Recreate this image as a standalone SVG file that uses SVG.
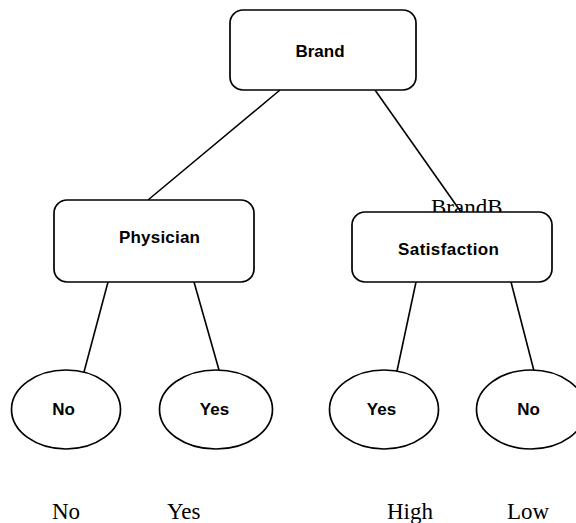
<svg xmlns="http://www.w3.org/2000/svg" width="576" height="523" viewBox="0 0 576 523">
  <style>
    .box { fill: #ffffff; stroke: #000000; stroke-width: 1.7; }
    .edge { stroke: #000000; stroke-width: 1.6; fill: none; }
    .lbl { font-family: "Liberation Sans", Arial, sans-serif; font-weight: bold; font-size: 17px; fill: #000000; text-anchor: middle; }
    .val { font-family: "Liberation Serif", "Times New Roman", serif; font-size: 23px; fill: #000000; }
  </style>
  <rect width="576" height="523" fill="#ffffff"/>

  <!-- branch value text that sits behind the Satisfaction box -->
  <text class="val" x="431" y="215">BrandB</text>

  <g id="connectors">
    <line class="edge" x1="280" y1="90" x2="148" y2="200"/>
    <line class="edge" x1="375" y1="90" x2="461" y2="212"/>
    <line class="edge" x1="108" y1="282" x2="84" y2="372"/>
    <line class="edge" x1="194" y1="282" x2="219" y2="370"/>
    <line class="edge" x1="416" y1="282" x2="397" y2="371"/>
    <line class="edge" x1="511" y1="282" x2="534" y2="371"/>
  </g>

  <g id="brand">
    <rect class="box" x="230" y="10" width="186" height="80" rx="13"/>
    <text class="lbl" x="320" y="57">Brand</text>
  </g>
  <g id="physician">
    <rect class="box" x="54" y="200" width="200" height="82" rx="13"/>
    <text class="lbl" x="159.5" y="243" textLength="81">Physician</text>
  </g>
  <g id="satisfaction">
    <rect class="box" x="352" y="212" width="200" height="70" rx="13"/>
    <text class="lbl" x="448.5" y="255" textLength="101">Satisfaction</text>
  </g>

  <g id="leaf-physician-no">
    <ellipse class="box" cx="66" cy="409.5" rx="54.5" ry="39.5"/>
    <text class="lbl" x="63.5" y="415">No</text>
  </g>
  <g id="leaf-physician-yes">
    <ellipse class="box" cx="216" cy="409.5" rx="56.5" ry="39.5"/>
    <text class="lbl" x="214.5" y="415">Yes</text>
  </g>
  <g id="leaf-satisfaction-yes">
    <ellipse class="box" cx="384" cy="409.5" rx="54.5" ry="39.5"/>
    <text class="lbl" x="381.5" y="415">Yes</text>
  </g>
  <g id="leaf-satisfaction-no">
    <ellipse class="box" cx="531" cy="409.5" rx="54.5" ry="39.5"/>
    <text class="lbl" x="528.5" y="415">No</text>
  </g>

  <g id="branch-values">
    <text class="val" x="52" y="519">No</text>
    <text class="val" x="167" y="519">Yes</text>
    <text class="val" x="387" y="519">High</text>
    <text class="val" x="507" y="519">Low</text>
  </g>
</svg>
